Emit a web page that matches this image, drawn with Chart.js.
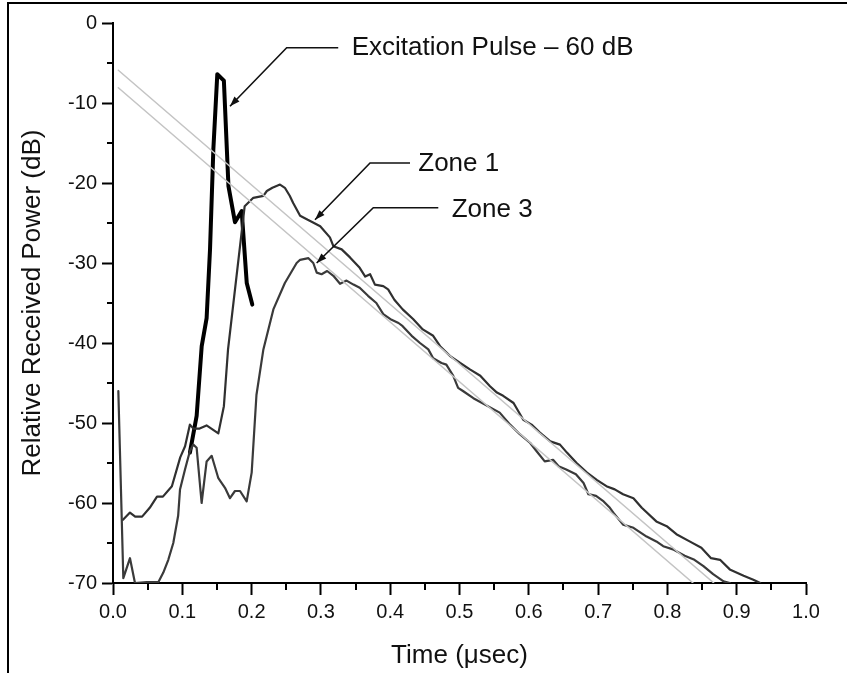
<!DOCTYPE html>
<html><head><meta charset="utf-8">
<script src="https://cdn.jsdelivr.net/npm/chart.js@4/dist/chart.umd.min.js"></script>
<style>html,body{margin:0;padding:0;background:#fff}canvas{display:block}</style>
</head><body>
<canvas id="c" width="847" height="673"></canvas>
<script>
// ---- data (time in µs, relative power in dB) ----
const xTickValues = [0,0.1,0.2,0.3,0.4,0.5,0.6,0.7,0.8,0.9,1.0];
const xMinorTicks = [0.05,0.15,0.25,0.35,0.45,0.55,0.65,0.75,0.85,0.95];
const yTickValues = [0,-10,-20,-30,-40,-50,-60,-70];
const yMinorTicks = [-5,-15,-25,-35,-45,-55,-65];

const pulseT  = [0.111,0.1207,0.128,0.1351,0.140,0.1448,0.1505,0.160,0.1666,0.176,0.1857,0.193,0.201];
const pulseDb = [-53.7,-49.1,-40.4,-36.9,-28.3,-15.8,-6.4,-7.2,-20.4,-24.9,-23.5,-32.5,-35.2];

const zone1T  = [0.0144,0.0245,0.032,0.042,0.053,0.0635,0.072,0.085,0.097,0.104,0.111,0.116,0.125,0.135,0.152,0.160,0.166,0.190,0.2025,0.217,0.222,0.230,0.241,0.248,0.255,0.260,0.270,0.281,0.288,0.299,0.313,0.318,0.330,0.342,0.356,0.364,0.371,0.378,0.390,0.397,0.406,0.418,0.433,0.447,0.462,0.472,0.486,0.501,0.515,0.530,0.544,0.554,0.563,0.578,0.592,0.604,0.616,0.631,0.645,0.655,0.669,0.684,0.698,0.712,0.724,0.736,0.751,0.763,0.784,0.799,0.813,0.832,0.849,0.863,0.876,0.890,0.910,0.924,0.934];
const zone1Db = [-62.1,-61.2,-61.7,-61.7,-60.6,-59.2,-59.2,-57.9,-54.3,-52.9,-50.2,-50.7,-50.7,-50.3,-51.3,-47.9,-40.8,-22.9,-21.85,-21.6,-21.0,-20.6,-20.2,-20.6,-21.6,-22.5,-24.1,-24.6,-24.9,-25.4,-26.8,-27.9,-28.3,-29.3,-30.6,-31.7,-31.4,-32.7,-32.9,-33.3,-34.6,-35.8,-37.0,-38.3,-39.1,-40.4,-41.6,-42.5,-43.3,-44.1,-45.4,-46.2,-46.6,-47.5,-49.6,-50.2,-51.2,-52.3,-52.7,-53.7,-55.0,-56.2,-57.1,-57.9,-58.3,-58.9,-59.4,-60.6,-62.3,-62.9,-63.9,-64.8,-65.6,-66.9,-67.1,-68.3,-69.1,-69.6,-70.0];

const zone3T  = [0.0077,0.0149,0.0245,0.0317,0.0486,0.0654,0.0726,0.0798,0.087,0.094,0.0967,0.1039,0.111,0.1159,0.1207,0.1279,0.1351,0.1424,0.152,0.1616,0.1688,0.176,0.1833,0.1929,0.2001,0.207,0.217,0.2314,0.248,0.265,0.270,0.282,0.289,0.294,0.301,0.309,0.318,0.3276,0.337,0.347,0.356,0.368,0.380,0.390,0.402,0.412,0.418,0.431,0.443,0.455,0.462,0.474,0.481,0.491,0.498,0.505,0.520,0.558,0.573,0.587,0.602,0.611,0.623,0.635,0.643,0.654,0.668,0.679,0.686,0.697,0.708,0.717,0.722,0.736,0.751,0.770,0.784,0.794,0.808,0.825,0.839,0.852,0.866,0.881,0.890];
const zone3Db = [-46.0,-69.4,-66.9,-70.0,-69.9,-69.9,-68.7,-67.1,-65.0,-61.6,-58.3,-55.8,-53.5,-52.7,-53.1,-60.0,-54.8,-54.1,-56.9,-58.1,-59.4,-58.5,-58.5,-59.8,-56.2,-46.5,-40.8,-35.8,-32.5,-30.0,-29.6,-29.4,-30.0,-31.2,-31.4,-31.0,-31.6,-32.6,-32.2,-32.7,-33.1,-34.1,-35.0,-36.4,-37.1,-37.5,-37.9,-39.1,-40.0,-40.8,-41.9,-42.5,-42.7,-44.1,-45.6,-46.0,-46.9,-48.7,-50.2,-51.4,-52.5,-53.5,-54.8,-54.6,-55.4,-55.8,-56.4,-57.5,-58.9,-59.1,-59.8,-60.6,-61.2,-62.7,-63.1,-64.2,-64.8,-65.4,-65.8,-66.6,-67.1,-67.9,-68.9,-69.8,-70.0];

const fitUpperT  = [0.0077, 0.867];
const fitUpperDb = [-5.9, -70];
const fitLowerT  = [0.0077, 0.837];
const fitLowerDb = [-8.1, -70];

// annotation labels: text, text anchor (t, dB), elbow (t, dB), leader start (t), arrow tip (t, dB)
const annLabels = ['Excitation Pulse – 60 dB', 'Zone 1', 'Zone 3'];
const annTextT  = [0.3444, 0.4405, 0.4887];
const annTextDb = [-3.1, -17.6, -23.3];
const annLineEndT = [0.325, 0.4286, 0.4694];
const annElbowT  = [0.2506, 0.3709, 0.3756];
const annElbowDb = [-3.1, -17.5, -23.1];
const annTipT  = [0.1688, 0.2915, 0.2939];
const annTipDb = [-10.4, -24.6, -30.0];

const toPts = (xs, ys) => xs.map((x, i) => ({x: x, y: ys[i]}));

const FONT = "'Liberation Sans', Arial, Helvetica, sans-serif";

const decor = {
  id: 'decor',
  beforeDraw(chart) {
    const ctx = chart.ctx;
    ctx.save();
    ctx.fillStyle = '#fff';
    ctx.fillRect(0, 0, chart.width, chart.height);
    ctx.strokeStyle = '#000';
    ctx.lineWidth = 2;
    ctx.beginPath();
    ctx.moveTo(8, 673); ctx.lineTo(8, 3); ctx.lineTo(847, 3);
    ctx.stroke();
    ctx.restore();
  },
  afterDraw(chart) {
    const ctx = chart.ctx;
    const xs = chart.scales.x, ys = chart.scales.y;
    ctx.save();
    ctx.strokeStyle = '#000';
    ctx.lineWidth = 2;
    // minor ticks
    ctx.beginPath();
    xMinorTicks.forEach(v => {
      const px = Math.round(xs.getPixelForValue(v));
      ctx.moveTo(px, xs.top); ctx.lineTo(px, xs.top + 7);
    });
    yMinorTicks.forEach(v => {
      const py = Math.round(ys.getPixelForValue(v));
      ctx.moveTo(ys.right, py); ctx.lineTo(ys.right - 6, py);
    });
    ctx.stroke();
    // annotations
    ctx.fillStyle = '#111';
    ctx.font = '26px ' + FONT;
    ctx.textBaseline = 'middle';
    ctx.textAlign = 'left';
    annLabels.forEach((lab, i) => {
      const ex = xs.getPixelForValue(annLineEndT[i]);
      const cx = xs.getPixelForValue(annElbowT[i]);
      const cy = ys.getPixelForValue(annElbowDb[i]);
      const tx = xs.getPixelForValue(annTipT[i]);
      const ty = ys.getPixelForValue(annTipDb[i]);
      ctx.strokeStyle = '#111';
      ctx.lineWidth = 1.6;
      ctx.beginPath();
      ctx.moveTo(ex, cy); ctx.lineTo(cx, cy); ctx.lineTo(tx, ty);
      ctx.stroke();
      const ang = Math.atan2(ty - cy, tx - cx);
      const L = 10, W = 3.5;
      ctx.beginPath();
      ctx.moveTo(tx, ty);
      ctx.lineTo(tx - L * Math.cos(ang) + W * Math.sin(ang), ty - L * Math.sin(ang) - W * Math.cos(ang));
      ctx.lineTo(tx - L * Math.cos(ang) - W * Math.sin(ang), ty - L * Math.sin(ang) + W * Math.cos(ang));
      ctx.closePath();
      ctx.fill();
      ctx.fillText(lab, xs.getPixelForValue(annTextT[i]), ys.getPixelForValue(annTextDb[i]));
    });
    ctx.restore();
  }
};

new Chart(document.getElementById('c'), {
  type: 'line',
  data: {
    datasets: [
      {label: 'Fit upper', data: toPts(fitUpperT, fitUpperDb), borderColor: '#c4c4c4', borderWidth: 1.5},
      {label: 'Fit lower', data: toPts(fitLowerT, fitLowerDb), borderColor: '#c4c4c4', borderWidth: 1.5},
      {label: 'Zone 3', data: toPts(zone3T, zone3Db), borderColor: '#3a3a3a', borderWidth: 2.2},
      {label: 'Zone 1', data: toPts(zone1T, zone1Db), borderColor: '#303030', borderWidth: 2.2},
      {label: 'Excitation Pulse – 60 dB', data: toPts(pulseT, pulseDb), borderColor: '#000', borderWidth: 4}
    ]
  },
  options: {
    responsive: false,
    animation: false,
    devicePixelRatio: 1,
    layout: {padding: {left: 8, right: 41, top: 23, bottom: 0}},
    elements: {point: {radius: 0}, line: {tension: 0, borderJoinStyle: 'round', borderCapStyle: 'round', fill: false}},
    plugins: {legend: {display: false}, tooltip: {enabled: false}},
    scales: {
      x: {
        type: 'linear', min: 0, max: 1,
        afterFit: s => { s.height = 90; },
        afterBuildTicks: s => { s.ticks = xTickValues.map(v => ({value: v})); },
        ticks: {color: '#111', font: {family: FONT, size: 20}, padding: 5, maxRotation: 0,
                callback: v => v.toFixed(1)},
        grid: {display: true, drawOnChartArea: false, drawTicks: true, tickLength: 12, tickWidth: 2, tickColor: '#000'},
        border: {display: true, color: '#000', width: 2},
        title: {display: true, text: 'Time (\u03bcsec)', color: '#111', font: {family: FONT, size: 26}, padding: {top: 0, bottom: 2}}
      },
      y: {
        type: 'linear', min: -70, max: 0,
        afterFit: s => { s.width = 105; },
        afterBuildTicks: s => { s.ticks = yTickValues.map(v => ({value: v})); },
        ticks: {color: '#111', font: {family: FONT, size: 20}, padding: 5,
                callback: v => String(v)},
        grid: {display: true, drawOnChartArea: false, drawTicks: true, tickLength: 11, tickWidth: 2, tickColor: '#000'},
        border: {display: true, color: '#000', width: 2},
        title: {display: true, text: 'Relative Received Power (dB)', color: '#111', font: {family: FONT, size: 26}, padding: {top: 9, bottom: 0}}
      }
    }
  },
  plugins: [decor]
});
</script>
</body></html>
